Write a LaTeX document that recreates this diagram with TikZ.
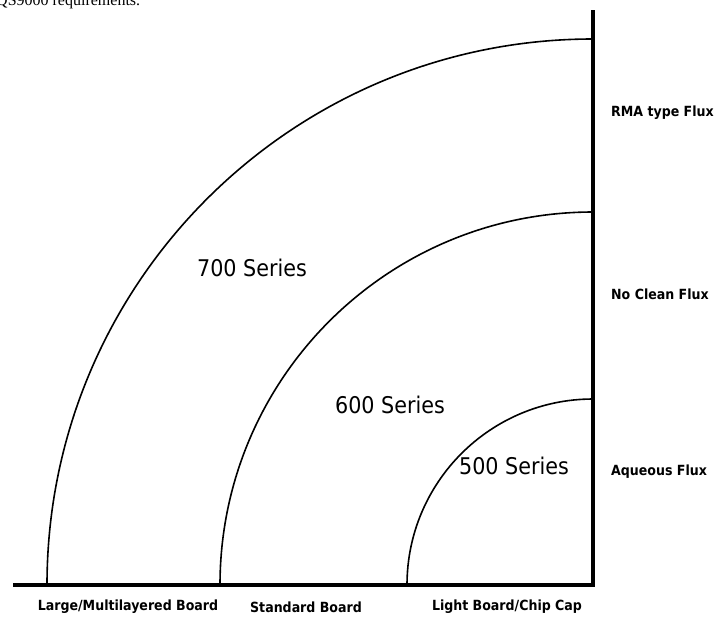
\documentclass[tikz,border=0pt]{standalone}
\usepackage{fontspec}
\setmainfont{Liberation Serif}
\newfontfamily\condfont{DejaVu Sans Condensed}
\begin{document}
\begin{tikzpicture}[x=1pt,y=-1pt,
	series/.style={font=\condfont\fontsize{23}{25}\selectfont, inner sep=0pt},
	flux/.style={font=\condfont\bfseries\fontsize{14}{16}\selectfont, inner sep=0pt, anchor=west},
	board/.style={font=\condfont\bfseries\fontsize{14}{16}\selectfont, inner sep=0pt}]
	\useasboundingbox (0,0) rectangle (720,622);
	\def\ra{546} % outer radius
	\def\rb{373} % middle radius
	\def\rc{186} % inner radius
	\coordinate (O) at (593,585);
	\coordinate (T) at (593,10);
	\coordinate (L) at (13,585);
	% cropped line of the page above
	\node[anchor=base west, inner sep=0pt, font=\fontsize{16}{18}\selectfont] (pagetext) at (-4,5) {QS9000 requirements.};
	% quarter circles
	\draw[line width=1.6pt] (O) ++(-\ra,0) arc[start angle=180, end angle=270, radius=\ra];
	\draw[line width=1.6pt] (O) ++(-\rb,0) arc[start angle=180, end angle=270, radius=\rb];
	\draw[line width=1.6pt] (O) ++(-\rc,0) arc[start angle=180, end angle=270, radius=\rc];
	% axes
	\draw[line width=4pt] (T) -- (O) -- (L);
	\node[series] (s700) at (252,268) {700 Series};
	\node[series] (s600) at (390,405) {600 Series};
	\node[series] (s500) at (514,466) {500 Series};
	\node[flux] (rma) at (611,113) {RMA type Flux};
	\node[flux] (noclean) at (611,294) {No Clean Flux};
	\node[flux] (aqueous) at (611,472) {Aqueous Flux};
	\node[board] (large) at (128,607) {Large/Multilayered Board};
	\node[board] (standard) at (306,607) {Standard Board};
	\node[board] (light) at (507,607) {Light Board/Chip Cap};
\end{tikzpicture}
\end{document}
